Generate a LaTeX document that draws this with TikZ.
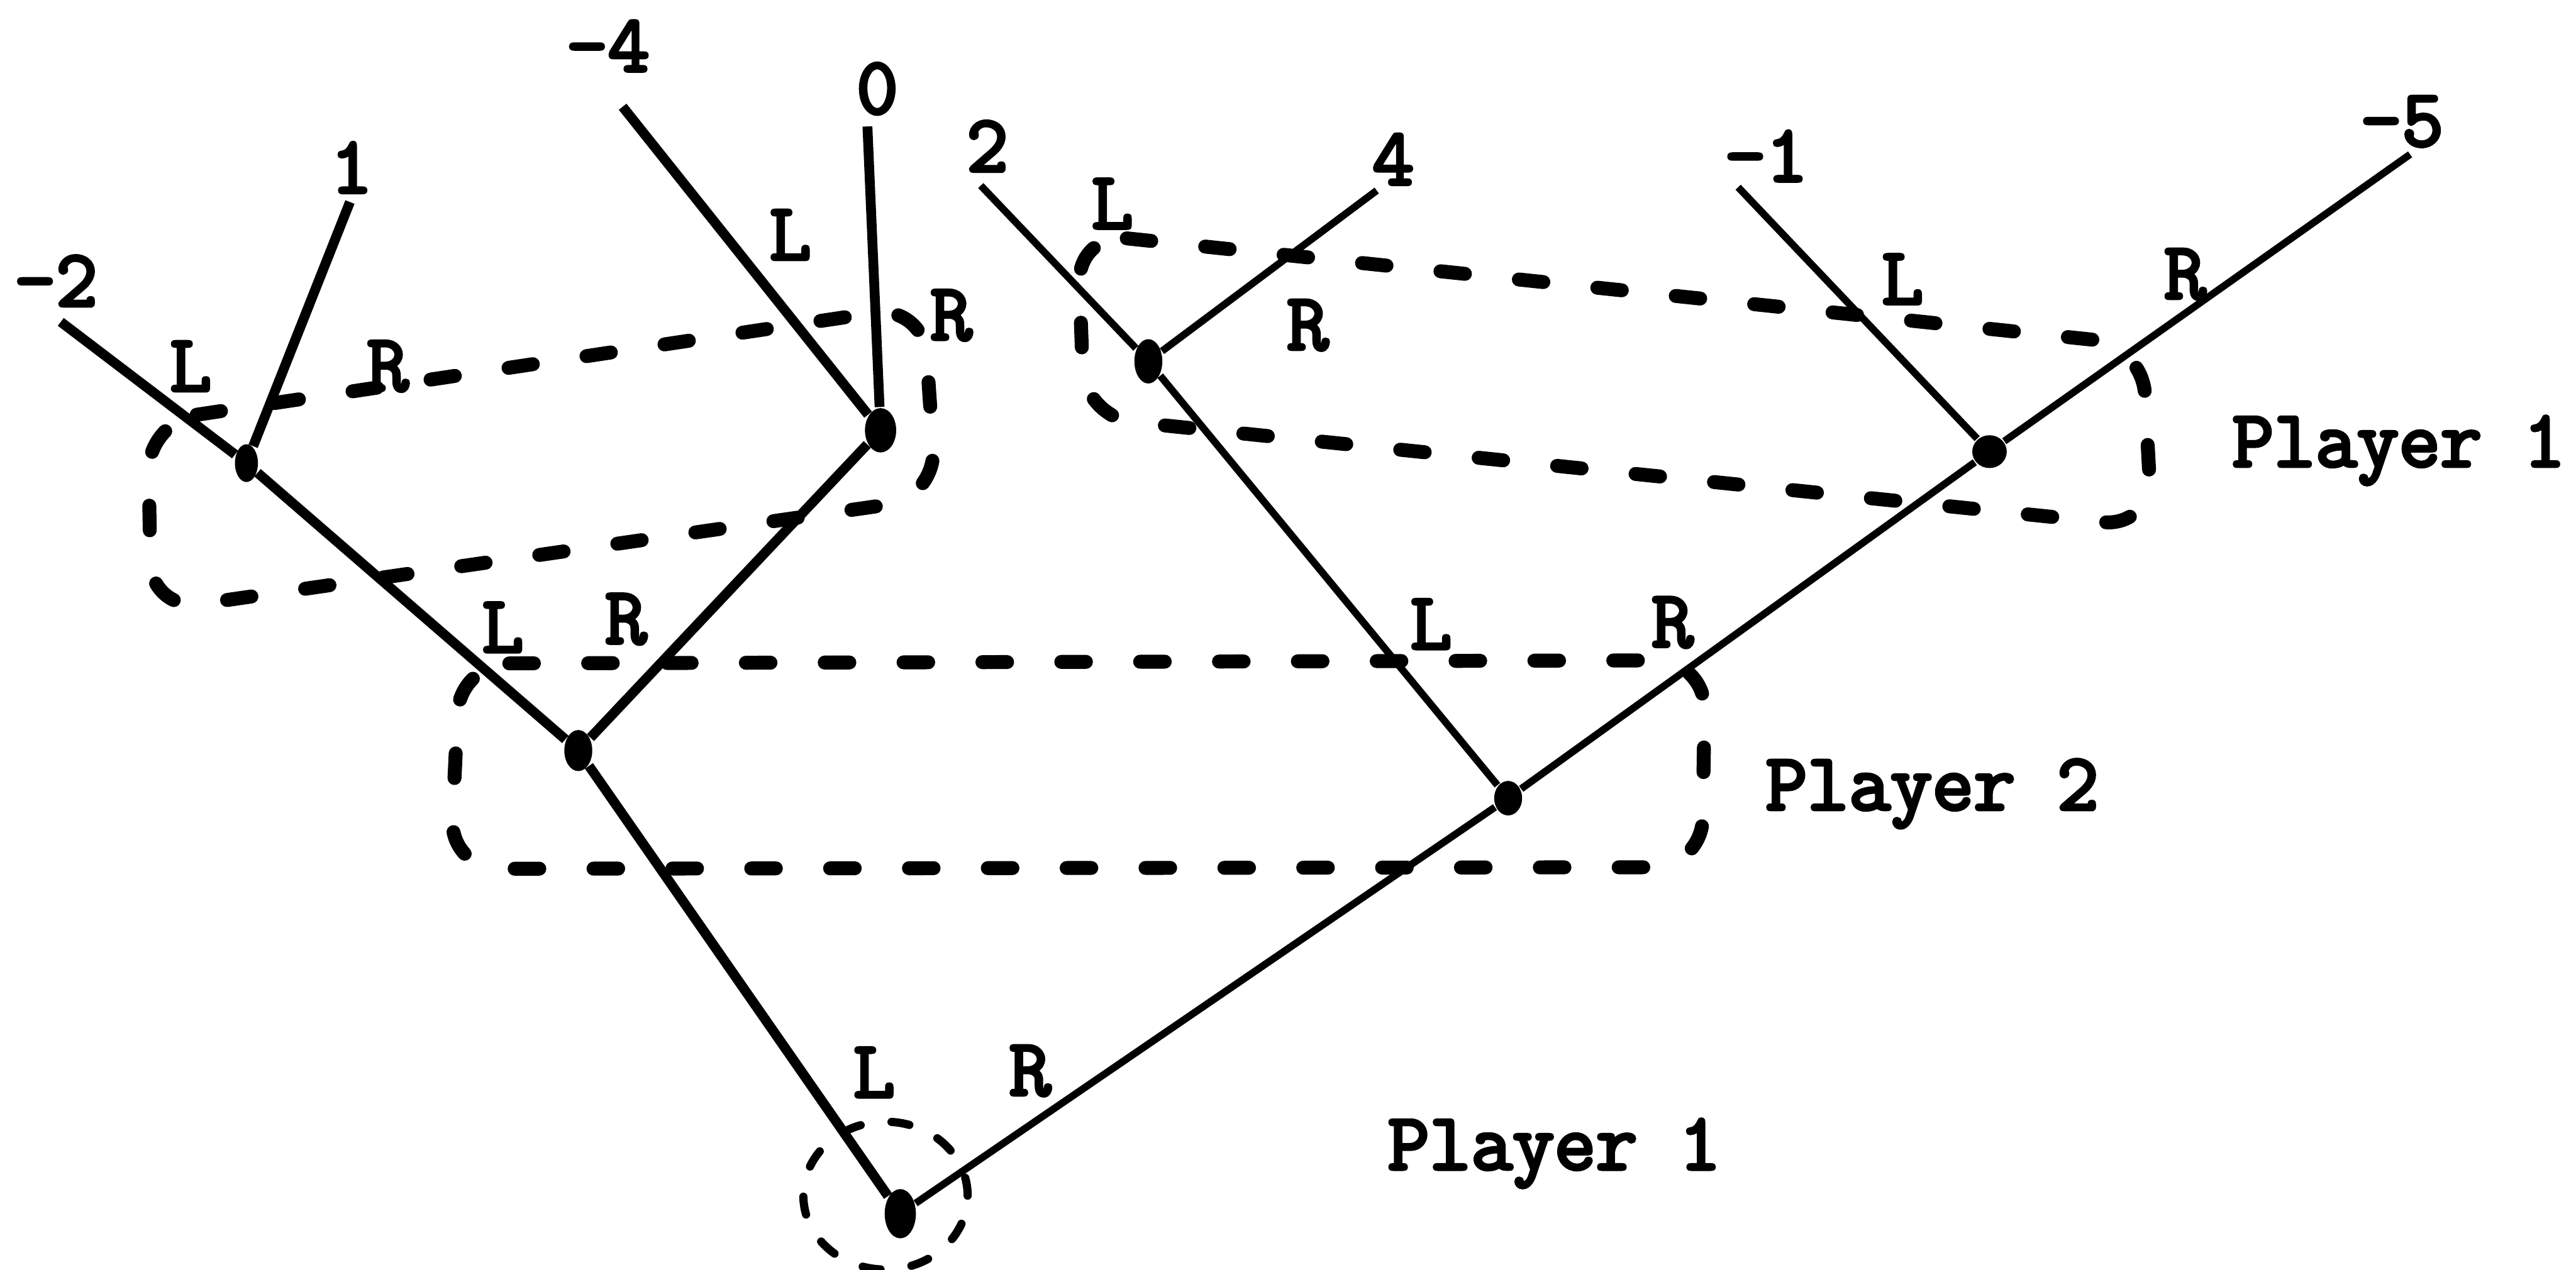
\documentclass[tikz,border=0pt]{standalone}
\usepackage{fontspec}
\newfontfamily\twfont[FakeBold=4]{Latin Modern Mono}
\usetikzlibrary{shapes.geometric}
\begin{document}
\begin{tikzpicture}[x=0.1mm,y=-0.1mm,
  txt/.style={font=\twfont\fontsize{14}{16}\selectfont, inner sep=0pt},
  dot/.style={ellipse, fill=black, draw=none, minimum width=1.7mm, minimum height=2.5mm, inner sep=0pt},
  thickedge/.style={line width=1.7pt},
  thinedge/.style={line width=1.25pt},
  infoset/.style={line width=0.85mm, line cap=round, dash pattern=on 1.5mm off 3.3mm, rounded corners=3mm},
  rootset/.style={line width=0.5mm, line cap=round, dash pattern=on 1.1mm off 1.9mm}]
\useasboundingbox (0,0) rectangle (1568,773);

% decision nodes
\node[dot, minimum width=1.9mm, minimum height=3mm] (r) at (548,739) {};
\node[dot] (a) at (352,457) {};
\node[dot, minimum width=1.7mm, minimum height=2.1mm] (b) at (918,486) {};
\node[dot, minimum width=1.4mm, minimum height=2.3mm] (c) at (150,282) {};
\node[dot, minimum width=1.9mm, minimum height=2.7mm] (d) at (536,262) {};
\node[dot, minimum width=1.7mm, minimum height=2.7mm] (e) at (699,220) {};
\node[dot, minimum width=2.1mm, minimum height=2mm] (f) at (1211,275) {};

% free ends of the terminal branches
\coordinate (e1) at (37,196);
\coordinate (e2) at (213,123);
\coordinate (e3) at (379,65);
\coordinate (e4) at (528,77);
\coordinate (e5) at (597,113);
\coordinate (e6) at (838,116);
\coordinate (e7) at (1058,114);
\coordinate (e8) at (1467,94);

% payoffs
\node[txt] (p1) at (34,171) {-2};
\node[txt] (p2) at (214,102) {1};
\node[txt] (p3) at (370,28) {-4};
\node[txt] (p4) at (534,54) {0};
\node[txt] (p5) at (601,89) {2};
\node[txt] (p6) at (848,97) {4};
\node[txt] (p7) at (1075,95) {-1};
\node[txt] (p8) at (1462,74) {-5};

% information sets
\draw[infoset] (90,257) -- (562,186) -- (570,303) -- (92,372) -- cycle;
\draw[infoset] (280,404) -- (1038,402) -- (1036,528) -- (274,529) -- cycle;
\draw[infoset] (656,142) -- (1304,210) -- (1310,321) -- (660,254) -- cycle;
\draw[rootset] (539,728) ellipse [x radius=5mm, y radius=4.5mm];

% branches
\draw[thickedge] (r) -- (a);
\draw[thickedge] (a) -- (c);
\draw[thickedge] (a) -- (d);
\draw[thickedge] (c) -- (e1);
\draw[thickedge] (c) -- (e2);
\draw[thickedge] (d) -- (e3);
\draw[thickedge] (d) -- (e4);
\draw[thinedge] (r) -- (b);
\draw[thinedge] (b) -- (e);
\draw[thinedge] (b) -- (f);
\draw[thinedge] (e) -- (e5);
\draw[thinedge] (e) -- (e6);
\draw[thinedge] (f) -- (e7);
\draw[thinedge] (f) -- (e8);

% branch labels
\node[txt] (lc) at (116,223) {L};
\node[txt] (rc) at (236,223) {R};
\node[txt] (ld) at (481,143) {L};
\node[txt] (rd) at (579,192) {R};
\node[txt] (la) at (306,382) {L};
\node[txt] (ra) at (381,377) {R};
\node[txt] (le) at (677,124) {L};
\node[txt] (re) at (796,198) {R};
\node[txt] (lf) at (1158,170) {L};
\node[txt] (rf) at (1330,167) {R};
\node[txt] (lb) at (871,380) {L};
\node[txt] (rb) at (1018,379) {R};
\node[txt] (lr) at (532,653) {L};
\node[txt] (rr) at (627,652) {R};

% player labels
\node[txt, anchor=base west] (pl1a) at (1358,284) {Player 1};
\node[txt, anchor=base west] (pl2) at (1074,493) {Player 2};
\node[txt, anchor=base west] (pl1b) at (844,712) {Player 1};
\end{tikzpicture}
\end{document}
